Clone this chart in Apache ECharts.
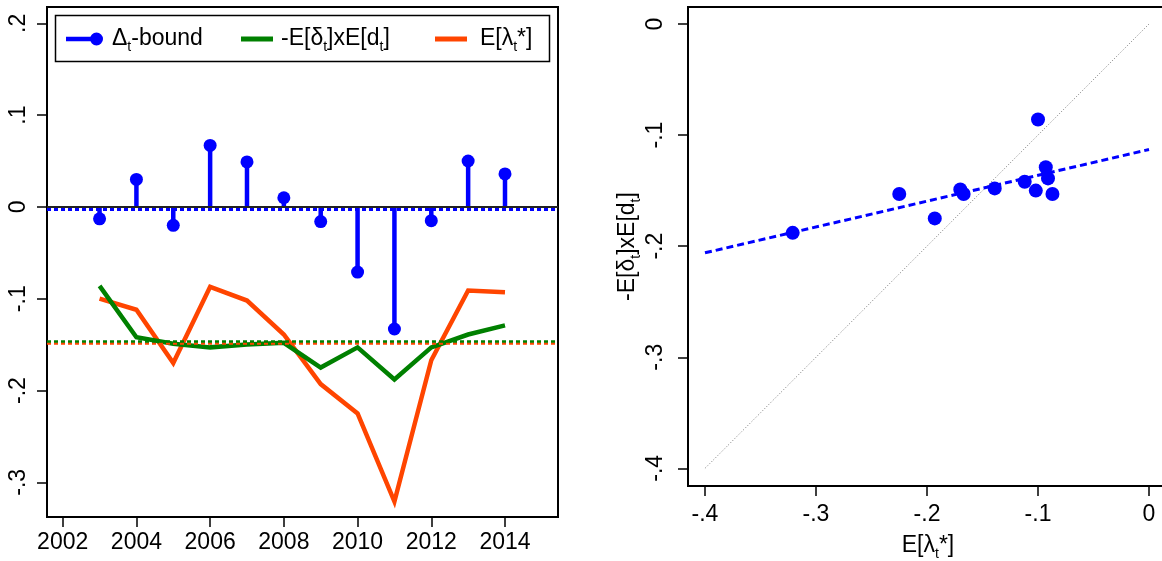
<!DOCTYPE html>
<html><head><meta charset="utf-8">
<script src="https://cdn.jsdelivr.net/npm/echarts@6/dist/echarts.min.js"></script>
<style>html,body{margin:0;padding:0;background:#fff}#c{width:1162px;height:561px}</style>
</head><body><div id="c"></div>
<script>
// ---- data ----
const years = [2003, 2004, 2005, 2006, 2007, 2008, 2009, 2010, 2011, 2012, 2013, 2014];
const deltaBound = [-0.013, 0.030, -0.020, 0.067, 0.049, 0.010, -0.016, -0.071, -0.133, -0.015, 0.050, 0.036];
const demandTerm = [-0.086, -0.142, -0.149, -0.153, -0.150, -0.148, -0.175, -0.153, -0.188, -0.153, -0.139, -0.129];
const lambdaStar = [-0.100, -0.112, -0.170, -0.087, -0.102, -0.139, -0.193, -0.225, -0.321, -0.167, -0.091, -0.093];
const meanDelta = -0.002;
const meanDemand = -0.1458;
const meanLambda = -0.1487;
const fitLine = [[-0.4, -0.206], [0, -0.113]];
const diagLine = [[-0.4, -0.4], [0, 0]];
const leftXTicks = [2002, 2004, 2006, 2008, 2010, 2012, 2014];
const leftYTicks = [-0.3, -0.2, -0.1, 0, 0.1, 0.2];
const rightTicks = [-0.4, -0.3, -0.2, -0.1, 0];

const FONT = "'Liberation Sans', Arial, Helvetica, sans-serif";
const FS = 23;
const BLUE = '#0000ff', GREEN = '#008000', ORANGE = '#ff4500';
const rich = {
  n: { fontSize: FS, fontFamily: FONT, color: '#000', lineHeight: FS },
  s: { fontSize: 14, fontFamily: FONT, color: '#000', lineHeight: 14, padding: [16, 0, 0, 0] }
};
const labelMap = {
  'Δt-bound': '{n|Δ}{s|t}{n|-bound}',
  '-E[δt]xE[dt]': '{n|-E[δ}{s|t}{n|]xE[d}{s|t}{n|]}',
  'E[λt*]': '{n|E[λ}{s|t}{n|*]}'
};
const fmt = v => {
  const r = Math.round(v * 10) / 10;
  if (r === 0) return '0';
  return String(r).replace('0.', '.');
};
const axisCommon = {
  axisLine: { show: true, onZero: false, lineStyle: { color: '#000', width: 2 } },
  axisTick: { show: true, length: 10, lineStyle: { color: '#000', width: 1.5 } },
  splitLine: { show: false },
};
function legendCfg(name, left, icon, w, h, gap) {
  return {
    data: [name], left: left, top: 24, padding: 0, itemGap: 0,
    itemWidth: w, itemHeight: h, icon: icon, selectedMode: false,
    formatter: n => labelMap[n],
    textStyle: { fontSize: FS, fontFamily: FONT, color: '#000', padding: [0, 0, 0, gap], rich: rich }
  };
}

const chart = echarts.init(document.getElementById('c'), null, { renderer: 'canvas' });
chart.setOption({
  backgroundColor: '#fff',
  animation: false,
  grid: [
    { left: 47, top: 7, width: 511, height: 510, show: true, borderColor: '#000', borderWidth: 2, containLabel: false, outerBoundsMode: 'none' },
    { left: 688, top: 7, width: 480, height: 479, show: true, borderColor: '#000', borderWidth: 2, containLabel: false, outerBoundsMode: 'none' }
  ],
  xAxis: [
    Object.assign({}, axisCommon, {
      type: 'value', gridIndex: 0, min: 2001.574, max: 2015.438,
      axisTick: Object.assign({}, axisCommon.axisTick, { customValues: leftXTicks }),
      axisLabel: { customValues: leftXTicks, formatter: v => String(v), fontSize: FS, fontFamily: FONT, color: '#000', margin: 14 }
    }),
    Object.assign({}, axisCommon, {
      type: 'value', gridIndex: 1, min: -0.4153, max: 0.0171,
      axisTick: Object.assign({}, axisCommon.axisTick, { customValues: rightTicks }),
      axisLabel: { customValues: rightTicks, formatter: fmt, fontSize: FS, fontFamily: FONT, color: '#000', margin: 17 },
      name: labelMap['E[λt*]'], nameLocation: 'middle', nameGap: 46,
      nameTextStyle: { fontSize: FS, fontFamily: FONT, color: '#000', rich: rich }
    })
  ],
  yAxis: [
    Object.assign({}, axisCommon, {
      type: 'value', gridIndex: 0, min: -0.3378, max: 0.2178,
      axisTick: Object.assign({}, axisCommon.axisTick, { customValues: leftYTicks }),
      axisLabel: { customValues: leftYTicks, formatter: fmt, rotate: 90, fontSize: FS, fontFamily: FONT, color: '#000', margin: 17 }
    }),
    Object.assign({}, axisCommon, {
      type: 'value', gridIndex: 1, min: -0.4159, max: 0.0153,
      axisTick: Object.assign({}, axisCommon.axisTick, { customValues: rightTicks }),
      axisLabel: { customValues: rightTicks, formatter: fmt, rotate: 90, fontSize: FS, fontFamily: FONT, color: '#000', margin: 21 },
      name: labelMap['-E[δt]xE[dt]'], nameLocation: 'middle', nameGap: 46, nameRotate: 90,
      nameTextStyle: { fontSize: FS, fontFamily: FONT, color: '#000', rich: rich }
    })
  ],
  legend: [
    legendCfg('Δt-bound', 66, 'path://M0,4.25 L30,4.25 L30,8.75 L0,8.75 Z M24,6.5 A6.5,6.5 0 1 1 37,6.5 A6.5,6.5 0 1 1 24,6.5 Z', 37, 13, 4),
    legendCfg('-E[δt]xE[dt]', 241, 'rect', 32, 5, 3),
    legendCfg('E[λt*]', 435, 'rect', 32, 5, 8)
  ],
  graphic: [
    { type: 'rect', z: 0, shape: { x: 55.5, y: 15.5, width: 494, height: 46 }, style: { fill: '#fff', stroke: '#000', lineWidth: 1.5 } }
  ],
  series: [
    {
      name: 'E[λt*]', type: 'line', xAxisIndex: 0, yAxisIndex: 0,
      data: years.map((y, i) => [y, lambdaStar[i]]),
      showSymbol: false, symbol: 'none', color: ORANGE,
      lineStyle: { width: 4.5, color: ORANGE, join: 'miter' },
      markLine: { silent: true, symbol: 'none', precision: 5, label: { show: false },
        lineStyle: { color: ORANGE, type: [4, 3], width: 2.6 }, data: [{ yAxis: meanLambda }] }
    },
    {
      name: '-E[δt]xE[dt]', type: 'line', xAxisIndex: 0, yAxisIndex: 0,
      data: years.map((y, i) => [y, demandTerm[i]]),
      showSymbol: false, symbol: 'none', color: GREEN,
      lineStyle: { width: 4.5, color: GREEN, join: 'miter' },
      markLine: { silent: true, symbol: 'none', precision: 5, label: { show: false },
        lineStyle: { color: GREEN, type: [4, 3], width: 2.6 }, data: [{ yAxis: meanDemand }] }
    },
    {
      name: 'Δt-bound', type: 'bar', xAxisIndex: 0, yAxisIndex: 0,
      data: years.map((y, i) => [y, deltaBound[i]]),
      barWidth: 4.5, color: BLUE, itemStyle: { color: BLUE },
      markLine: { silent: true, symbol: 'none', precision: 5, label: { show: false },
        data: [
          { yAxis: 0, lineStyle: { color: '#222', type: 'solid', width: 2 } },
          { yAxis: meanDelta, lineStyle: { color: BLUE, type: [4, 3], width: 3 } }
        ] }
    },
    {
      name: 'Δt-bound dots', type: 'scatter', xAxisIndex: 0, yAxisIndex: 0,
      data: years.map((y, i) => [y, deltaBound[i]]),
      symbolSize: 13, itemStyle: { color: BLUE, opacity: 1 }
    },
    {
      name: 'diag', type: 'line', xAxisIndex: 1, yAxisIndex: 1, data: diagLine,
      showSymbol: false, symbol: 'none', lineStyle: { color: '#777', width: 1, type: [1, 2] }
    },
    {
      name: 'fit', type: 'line', xAxisIndex: 1, yAxisIndex: 1, data: fitLine,
      showSymbol: false, symbol: 'none', lineStyle: { color: BLUE, width: 3, type: [7, 4] }
    },
    {
      name: 'scatter', type: 'scatter', xAxisIndex: 1, yAxisIndex: 1,
      data: years.map((y, i) => [lambdaStar[i], demandTerm[i]]),
      symbolSize: 14, itemStyle: { color: BLUE, opacity: 1 }
    }
  ]
});
</script>
</body></html>
